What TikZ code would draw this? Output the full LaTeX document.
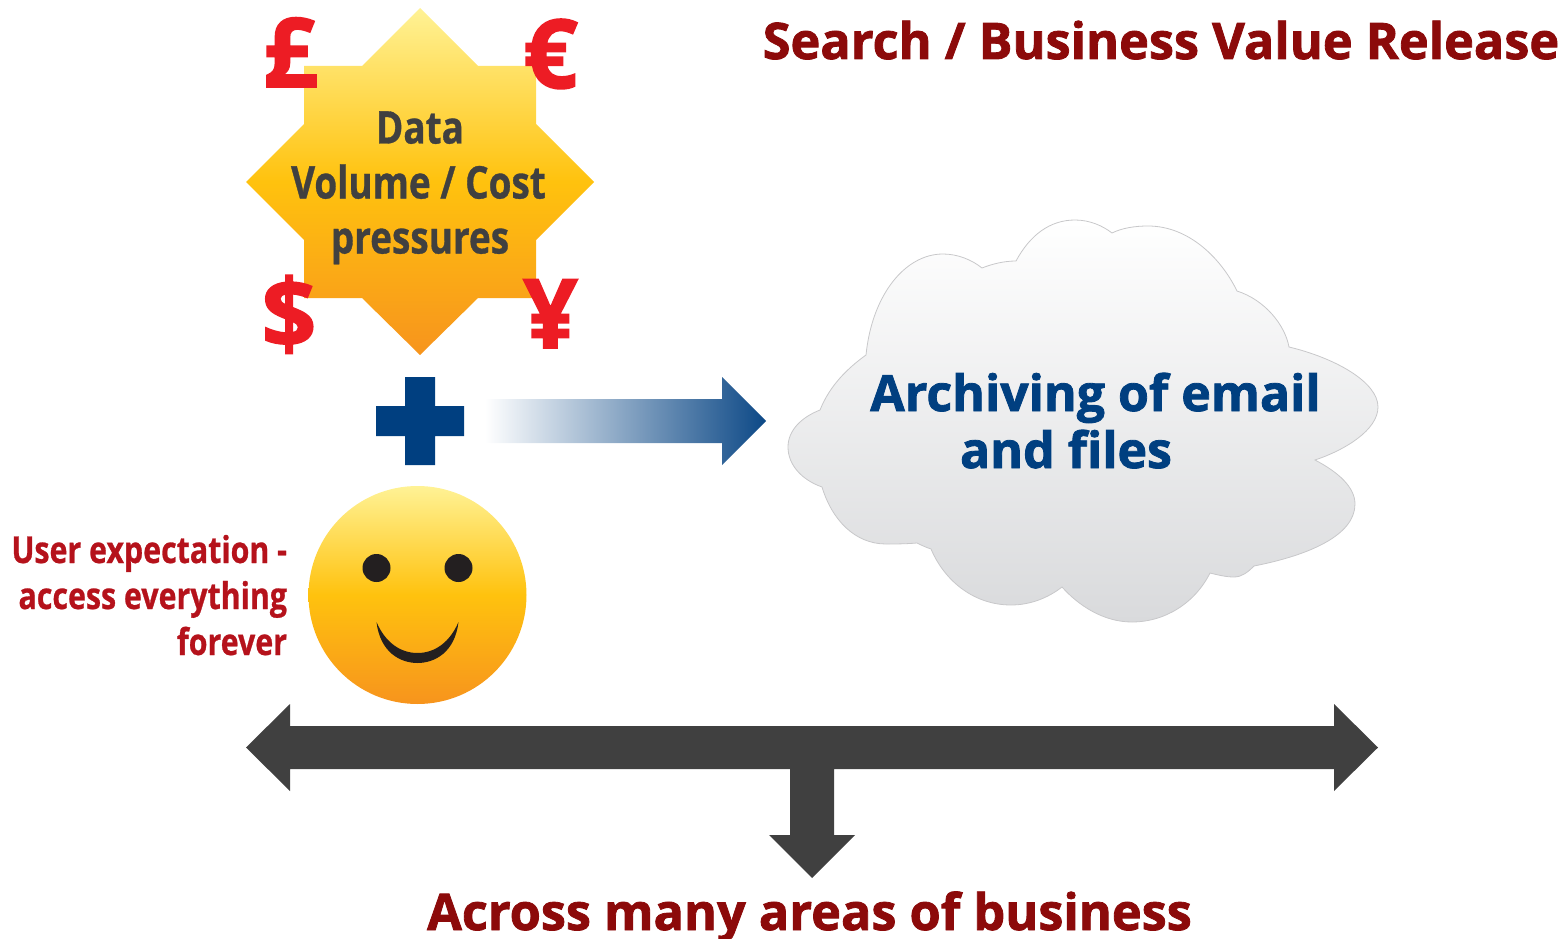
\documentclass[tikz,border=0pt]{standalone}
\usepackage{fontspec}
\setmainfont{Open Sans}
\newfontfamily\heavyfont[BoldFeatures={FakeBold=1.6}]{Open Sans}
\newfontfamily\condfont[FakeStretch=0.82,BoldFeatures={FakeBold=0.7}]{Open Sans}
\definecolor{titlered}{HTML}{8C0A0A}
\definecolor{navy}{HTML}{003F80}
\definecolor{slate}{HTML}{404040}
\definecolor{userred}{HTML}{B5121B}
\definecolor{cashred}{HTML}{ED1C24}
\definecolor{sunA}{HTML}{FFF295}
\definecolor{sunB}{HTML}{FFC20E}
\definecolor{sunC}{HTML}{F7941D}
\definecolor{inkblack}{HTML}{231F20}
\definecolor{cloudedge}{HTML}{C8C8CA}
\definecolor{cloudlow}{HTML}{D9DADC}
\tikzset{
  lbl/.style={inner sep=0pt,outer sep=0pt,anchor=base},
  headline/.style={lbl,font=\heavyfont\bfseries\fontsize{50.4}{60}\selectfont,text=titlered},
  cloudtext/.style={lbl,font=\heavyfont\bfseries\fontsize{50}{58}\selectfont,text=navy},
  startext/.style={lbl,font=\condfont\bfseries\fontsize{45}{54}\selectfont,text=slate},
  usertext/.style={lbl,anchor=base east,font=\condfont\bfseries\fontsize{37}{46}\selectfont,text=userred},
  cash/.style={lbl,font=\heavyfont\bfseries\fontsize{96}{110}\selectfont,text=cashred},
  sunfill/.style={top color=sunA,bottom color=sunC,middle color=sunB,draw=none},
  darkblock/.style={fill=slate,draw=none},
}
\begin{document}
\begin{tikzpicture}[x=1pt,y=-1pt]
\useasboundingbox (0,0) rectangle (1567,939);
% star
\path[sunfill] (420,8) -- (478,66) -- (536,66) -- (536,124) -- (594,182) -- (536,240) -- (536,298) -- (478,298) -- (420,355) -- (362,298) -- (304,298) -- (304,240) -- (246,182) -- (304,124) -- (304,66) -- (362,66) -- cycle;
\node[startext] (data) at (420,143.5) {Data};
\node[startext] (volume) at (418.5,198.5) {Volume / Cost};
\node[startext] (pressures) at (420,253.5) {pressures};
% currency
\node[cash] (pound) at (290.5,87) {£};
\node[cash] (euro) at (550.5,88) {€};
\node[cash] (dollar) at (289,348) {\$};
\node[cash] (yen) at (550.5,348) {¥};
% plus
\fill[navy] (405,377) -- (435,377) -- (435,406) -- (464,406) -- (464,436) -- (435,436) -- (435,465) -- (405,465) -- (405,436) -- (376,436) -- (376,406) -- (405,406) -- cycle;
% gradient arrow
\path[left color=white,right color=navy!95!white,draw=none] (485,399) -- (722,399) -- (722,377) -- (766,421) -- (722,465) -- (722,443) -- (485,443) -- cycle;
% cloud
\path[draw=cloudedge,line width=0.8pt,top color=white,bottom color=cloudlow]
 (866,355) .. controls (872,295) and (905,254) .. (943,254)
 .. controls (958,254) and (972,260) .. (982,268)
 .. controls (992,264) and (1004,261) .. (1016,261)
 .. controls (1030,235) and (1050,220) .. (1075,220)
 .. controls (1090,220) and (1103,226) .. (1112,233)
 .. controls (1122,228) and (1135,226) .. (1148,226)
 .. controls (1190,226) and (1222,260) .. (1237,291)
 .. controls (1265,300) and (1285,325) .. (1289,347)
 .. controls (1335,358) and (1378,382) .. (1378,407)
 .. controls (1378,430) and (1345,450) .. (1315,460)
 .. controls (1338,472) and (1355,487) .. (1355,504)
 .. controls (1355,535) and (1310,555) .. (1254,566)
 .. controls (1248,572) and (1242,577) .. (1234,577)
 .. controls (1226,577) and (1218,575) .. (1210,573)
 .. controls (1195,603) and (1165,622) .. (1132,622)
 .. controls (1103,622) and (1078,605) .. (1062,587)
 .. controls (1048,598) and (1030,605) .. (1011,605)
 .. controls (975,605) and (945,582) .. (931,549)
 .. controls (925,547) and (921,545) .. (917,543)
 .. controls (905,544) and (895,544) .. (886,544)
 .. controls (855,544) and (832,520) .. (822,487)
 .. controls (802,480) and (788,465) .. (788,447)
 .. controls (788,430) and (802,417) .. (820,410)
 .. controls (830,385) and (848,368) .. (866,355) -- cycle;
\node[cloudtext] (archiving) at (1095.5,411) {Archiving of email};
\node[cloudtext] (files) at (1066,468) {and files};
% smiley
\node[circle,sunfill,minimum size=218pt,inner sep=0pt] (face) at (417.5,595) {};
\node[circle,fill=inkblack,minimum size=28pt,inner sep=0pt] (eyeL) at (376.5,568) {};
\node[circle,fill=inkblack,minimum size=28pt,inner sep=0pt] (eyeR) at (458.5,568) {};
\fill[inkblack] (376.5,622) .. controls (380,652) and (400,663) .. (417.5,663) .. controls (435,663) and (455,652) .. (458.5,622) .. controls (450,642) and (435,653) .. (417.5,653) .. controls (400,653) and (385,642) .. (376.5,622) -- cycle;
% user text
\node[usertext] (u1) at (287,563) {User expectation -};
\node[usertext] (u2) at (287,609) {access everything};
\node[usertext] (u3) at (287,655) {forever};
% dark arrows
\path[darkblock] (246,747.5) -- (290,704) -- (290,726) -- (1334,726) -- (1334,704) -- (1378,747.5) -- (1334,791) -- (1334,769) -- (834,769) -- (834,835) -- (855,835) -- (812,878) -- (769,835) -- (790,835) -- (790,769) -- (290,769) -- (290,791) -- cycle;
% headings
\node[headline] (title) at (1161,59) {Search / Business Value Release};
\node[headline] (across) at (809.5,930) {Across many areas of business};
\end{tikzpicture}
\end{document}
